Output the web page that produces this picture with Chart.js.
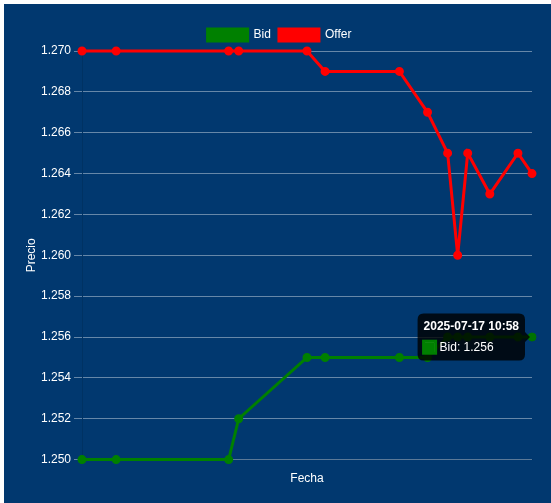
<!DOCTYPE html>
<html lang="es">
<head>
<meta charset="UTF-8">
<title>Bid / Offer</title>
<script src="https://cdn.jsdelivr.net/npm/chart.js@4.4.1/dist/chart.umd.min.js"></script>
<style>
  html, body {
    margin: 0;
    padding: 0;
    background: #ffffff;
  }
  .panel {
    position: absolute;
    left: 4px;
    top: 4px;
    width: 547px;
    height: 499px;
    box-sizing: border-box;
    padding: 17px 12px 13px 16px;
    background: #01386f;
  }
  .panel canvas {
    display: block;
  }
</style>
</head>
<body>
<div class="panel">
  <canvas id="grafico"></canvas>
</div>
<script>
// Datos
const fechas = [
  '2025-07-17 07:14', '2025-07-17 07:31', '2025-07-17 08:27', '2025-07-17 08:32',
  '2025-07-17 09:06', '2025-07-17 09:15', '2025-07-17 09:52', '2025-07-17 10:06',
  '2025-07-17 10:16', '2025-07-17 10:21', '2025-07-17 10:26', '2025-07-17 10:37',
  '2025-07-17 10:51', '2025-07-17 10:58'
];
const bid = [1.250, 1.250, 1.250, 1.252, 1.255, 1.255, 1.255, 1.255, 1.256, 1.256, 1.256, 1.256, 1.256, 1.256];
const offer = [1.270, 1.270, 1.270, 1.270, 1.270, 1.269, 1.269, 1.267, 1.265, 1.260, 1.265, 1.263, 1.265, 1.264];
const precioMin = 1.250;
const precioMax = 1.270;
const paso = 0.002;

// minutos del dia a partir de 'AAAA-MM-DD HH:MM' (no hay adaptador de fechas)
function minutos(fecha) {
  const [h, m] = fecha.slice(11).split(':').map(Number);
  return h * 60 + m;
}

function serie(valores) {
  return valores.map((v, i) => ({ x: minutos(fechas[i]), y: v }));
}

Chart.defaults.font.family = "Arial, 'Liberation Sans', sans-serif";
Chart.defaults.font.size = 12;
Chart.defaults.color = '#ffffff';

const ctx = document.getElementById('grafico').getContext('2d');
const grafico = new Chart(ctx, {
  type: 'line',
  data: {
    datasets: [
      {
        label: 'Bid',
        data: serie(bid),
        borderColor: 'green',
        backgroundColor: 'green',
        borderWidth: 3,
        pointRadius: 3,
        tension: 0,
        clip: false,
      },
      {
        label: 'Offer',
        data: serie(offer),
        borderColor: 'red',
        backgroundColor: 'red',
        borderWidth: 3,
        pointRadius: 3,
        tension: 0,
        clip: false,
      },
    ],
  },
  options: {
    responsive: true,
    maintainAspectRatio: false,
    animation: false,
    plugins: {
      legend: {
        position: 'top',
        labels: { color: '#ffffff', padding: 8 },
      },
      tooltip: {
        boxPadding: 2,
        callbacks: {
          title: (items) => fechas[items[0].dataIndex],
        },
      },
    },
    scales: {
      x: {
        type: 'linear',
        min: minutos(fechas[0]),
        max: minutos(fechas[fechas.length - 1]),
        ticks: { display: false },
        grid: { display: false },
        title: { display: true, text: 'Fecha', color: '#ffffff' },
      },
      y: {
        min: precioMin,
        max: precioMax,
        ticks: {
          stepSize: paso,
          color: '#ffffff',
          callback: (v) => v.toFixed(3),
        },
        grid: { color: 'rgba(255, 255, 255, 0.4)' },
        title: { display: true, text: 'Precio', color: '#ffffff' },
        afterFit: (escala) => { escala.width = 62; },
      },
    },
  },
});

// Tooltip activo sobre el ultimo punto Bid, como en la captura
const ultimo = bid.length - 1;
const punto = grafico.getDatasetMeta(0).data[ultimo];
grafico.tooltip.setActiveElements([{ datasetIndex: 0, index: ultimo }], { x: punto.x, y: punto.y });
grafico.setActiveElements([{ datasetIndex: 0, index: ultimo }]);
grafico.update();
</script>
</body>
</html>
